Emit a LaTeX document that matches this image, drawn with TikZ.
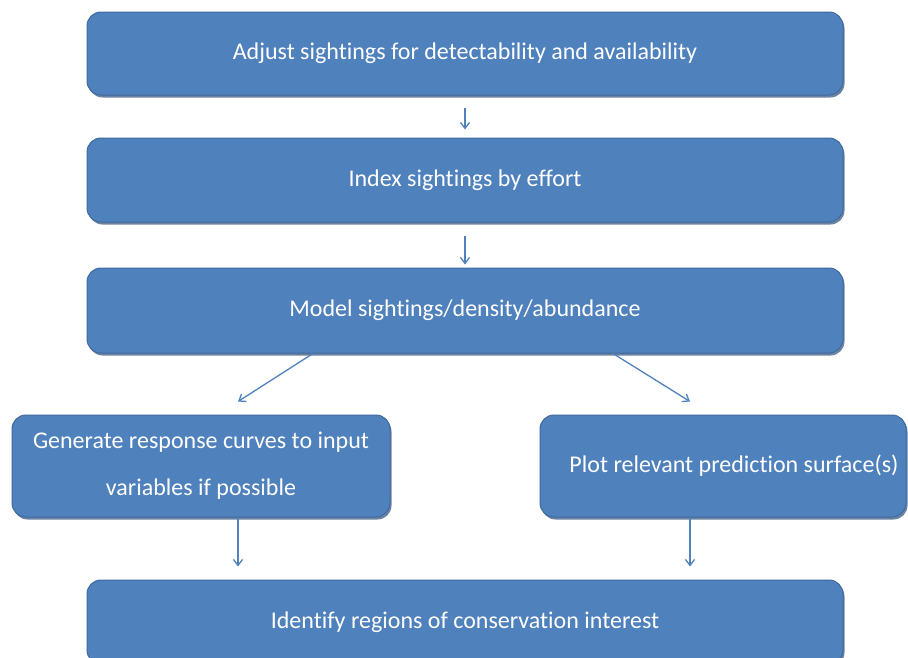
\documentclass[tikz,border=0pt]{standalone}
\usepackage{fontspec}
\setmainfont{Carlito}[Ligatures=CommonOff]
\usetikzlibrary{arrows.meta,shadows}
\definecolor{boxblue}{HTML}{4F81BD}
\definecolor{boxedge}{HTML}{3F6A9E}
\definecolor{shade}{HTML}{2F4F7A}
\tikzset{
  stepbox/.style={draw=boxedge, line width=1pt, fill=boxblue, rounded corners=14pt,
    text=white, align=center, font=\fontsize{24}{47}\selectfont,
    drop shadow={shadow xshift=1.5pt, shadow yshift=-2.5pt, fill=shade, opacity=0.7}},
  arr/.style={draw=boxblue, line width=1.3pt, -{Straight Barb[length=6pt,width=9pt]}}
}
\begin{document}
\begin{tikzpicture}[x=1pt,y=-1pt]
%\draw[help lines] (0,0) grid (908,657);
\useasboundingbox (0,0) rectangle (908,657);
\node (adjust) [stepbox, minimum width=756pt, minimum height=83pt] at (465,53.5) {Adjust sightings for detectability and availability};
\node (index) [stepbox, minimum width=756pt, minimum height=84pt] at (465,180) {Index sightings by effort};
\node (model) [stepbox, minimum width=756pt, minimum height=85pt] at (465,310.5) {Model sightings/density/abundance};
\node (resp) [stepbox, minimum width=378pt, minimum height=102pt] at (201,466) {Generate response curves to input\\variables if possible};
\node (surf) [stepbox, minimum width=366pt, minimum height=102pt] at (723,466) {\hspace*{22pt}Plot relevant prediction surface(s)};
\node (ident) [stepbox, minimum width=756pt, minimum height=84pt] at (465,622) {Identify regions of conservation interest};
\path
(adjust) edge [arr, shorten <=12pt, shorten >=8pt] (index)
(index) edge [arr, shorten <=13pt, shorten >=3pt] (model)
([xshift=-152pt]model.south) edge [arr] ([xshift=37pt,yshift=13pt]resp.north)
([xshift=148pt]model.south) edge [arr] ([xshift=-33pt,yshift=13pt]surf.north)
([xshift=37pt]resp.south) edge [arr, shorten <=1pt, shorten >=13pt] ([xshift=37pt]resp.south |- ident.north)
([xshift=-33pt]surf.south) edge [arr, shorten <=1pt, shorten >=13pt] ([xshift=-33pt]surf.south |- ident.north);
\end{tikzpicture}
\end{document}
